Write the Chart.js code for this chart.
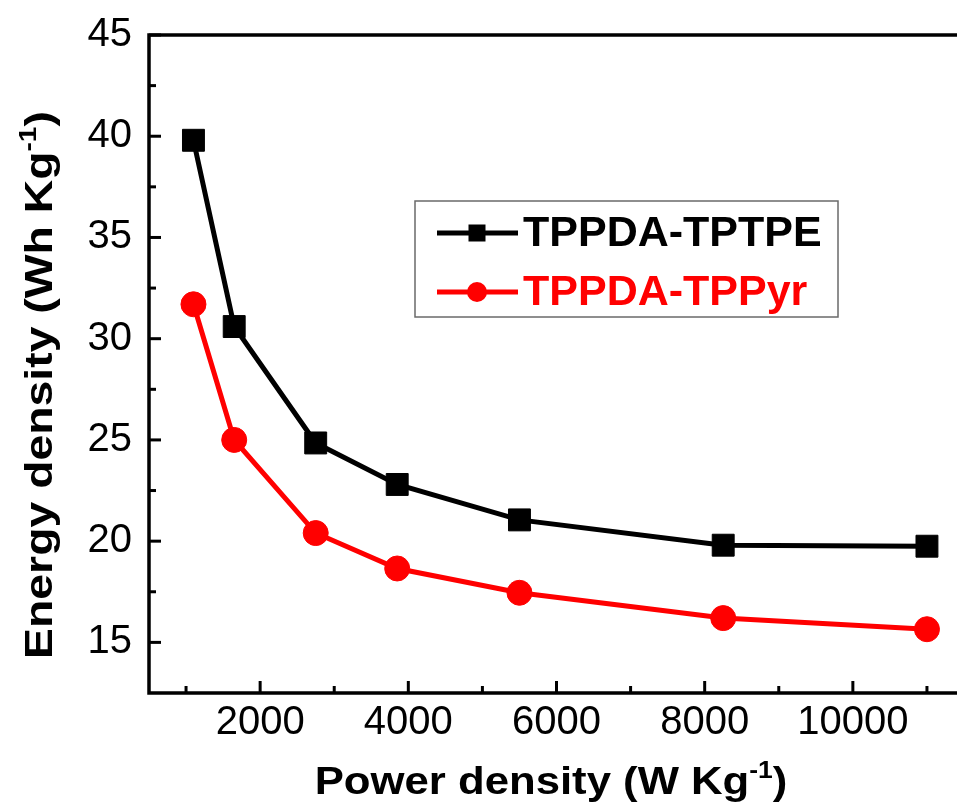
<!DOCTYPE html>
<html>
<head>
<meta charset="utf-8">
<script src="https://cdn.jsdelivr.net/npm/chart.js@4.4.1/dist/chart.umd.min.js"></script>
<style>
  html, body { margin: 0; padding: 0; background: #fff; overflow: hidden; }
  #wrap { width: 965px; height: 807px; }
</style>
</head>
<body>
<div id="wrap"><canvas id="c" width="965" height="807"></canvas></div>
<script>
// ---- data ----
const seriesNames = ['TPPDA-TPTPE', 'TPPDA-TPPyr'];
const powerDensity = [1100, 1650, 2750, 3850, 5500, 8250, 11000];
const energyTPTPE = [39.8, 30.6, 24.85, 22.8, 21.05, 19.8, 19.75];
const energyTPPyr = [31.7, 25.0, 20.4, 18.65, 17.45, 16.2, 15.65];
const xTickLabels = [2000, 4000, 6000, 8000, 10000];
const xMinorTicks = [1000, 3000, 5000, 7000, 9000, 11000];
const yTickLabels = [15, 20, 25, 30, 35, 40, 45];
const yMinorTicks = [17.5, 22.5, 27.5, 32.5, 37.5, 42.5];
const xTitle = ['Power density (W Kg', '-1', ')'];
const yTitle = ['Energy density (Wh Kg', '-1', ')'];

const FONT = '"Liberation Sans", Arial, Helvetica, sans-serif';

function toPoints(xs, ys) { return xs.map((x, i) => ({ x: x, y: ys[i] })); }

const framePlugin = {
  id: 'frame',
  beforeDatasetsDraw(chart) {
    const ctx = chart.ctx;
    const a = chart.chartArea;
    const xs = chart.scales.x, ys = chart.scales.y;
    ctx.save();
    ctx.strokeStyle = '#000';
    ctx.lineWidth = 3.5;
    ctx.lineCap = 'square';
    ctx.beginPath();
    ctx.moveTo(a.left, a.top); ctx.lineTo(a.right, a.top);
    ctx.lineTo(a.right, a.bottom); ctx.lineTo(a.left, a.bottom); ctx.closePath();
    ctx.stroke();
    ctx.lineCap = 'butt';
    ctx.lineWidth = 3;
    xTickLabels.forEach(v => { const p = xs.getPixelForValue(v); ctx.beginPath(); ctx.moveTo(p, a.bottom); ctx.lineTo(p, a.bottom - 12); ctx.stroke(); });
    xMinorTicks.forEach(v => { const p = xs.getPixelForValue(v); ctx.beginPath(); ctx.moveTo(p, a.bottom); ctx.lineTo(p, a.bottom - 7); ctx.stroke(); });
    yTickLabels.forEach(v => { const p = ys.getPixelForValue(v); ctx.beginPath(); ctx.moveTo(a.left, p); ctx.lineTo(a.left + 12, p); ctx.stroke(); });
    yMinorTicks.forEach(v => { const p = ys.getPixelForValue(v); ctx.beginPath(); ctx.moveTo(a.left, p); ctx.lineTo(a.left + 7, p); ctx.stroke(); });
    ctx.restore();
  },
  afterDraw(chart) {
    const ctx = chart.ctx;
    ctx.save();
    ctx.fillStyle = '#000';
    const drawSup = (parts, size, sx) => {
      const supSize = Math.round(size * 0.6);
      ctx.font = 'bold ' + size + 'px ' + FONT;
      const w1 = ctx.measureText(parts[0]).width;
      ctx.font = 'bold ' + supSize + 'px ' + FONT;
      const w2 = ctx.measureText(parts[1]).width;
      ctx.font = 'bold ' + size + 'px ' + FONT;
      const w3 = ctx.measureText(parts[2]).width;
      const total = w1 + w2 + w3;
      ctx.save();
      ctx.scale(sx, 1);
      const x0 = -total / 2;
      ctx.textBaseline = 'alphabetic';
      ctx.textAlign = 'left';
      ctx.fillText(parts[0], x0, 0);
      ctx.font = 'bold ' + supSize + 'px ' + FONT;
      ctx.fillText(parts[1], x0 + w1, -size * 0.42);
      ctx.font = 'bold ' + size + 'px ' + FONT;
      ctx.fillText(parts[2], x0 + w1 + w2, 0);
      ctx.restore();
    };
    ctx.save();
    ctx.translate(551, 794);
    drawSup(xTitle, 38, 1.15);
    ctx.restore();
    ctx.save();
    ctx.translate(52, 385);
    ctx.rotate(-Math.PI / 2);
    drawSup(yTitle, 38, 1.22);
    ctx.restore();

    // legend
    const bx = 415, by = 201, bw = 423, bh = 116;
    ctx.strokeStyle = '#6a6a6a';
    ctx.lineWidth = 1.5;
    ctx.strokeRect(bx, by, bw, bh);
    const rowsY = [233, 292];
    chart.data.datasets.forEach((ds, i) => {
      const y = rowsY[i];
      ctx.strokeStyle = ds.borderColor;
      ctx.lineWidth = 5;
      ctx.beginPath(); ctx.moveTo(437, y); ctx.lineTo(518, y); ctx.stroke();
      ctx.fillStyle = ds.backgroundColor;
      if (ds.pointStyle === 'rect') {
        ctx.fillRect(477 - 8.5, y - 8.5, 17, 17);
      } else {
        ctx.beginPath(); ctx.arc(477, y, 10, 0, Math.PI * 2); ctx.fill();
      }
      ctx.fillStyle = ds.borderColor;
      ctx.font = 'bold 43px ' + FONT;
      ctx.textAlign = 'left';
      ctx.textBaseline = 'middle';
      ctx.fillText(ds.label, 523, y + 1);
    });
    ctx.restore();
  }
};

new Chart(document.getElementById('c'), {
  type: 'scatter',
  data: {
    datasets: [
      {
        label: seriesNames[0],
        data: toPoints(powerDensity, energyTPTPE),
        showLine: true,
        borderColor: '#000000',
        backgroundColor: '#000000',
        borderWidth: 5,
        pointStyle: 'rect',
        pointRadius: 15.5,
        pointBorderWidth: 1,
        pointHoverRadius: 15.5
      },
      {
        label: seriesNames[1],
        data: toPoints(powerDensity, energyTPPyr),
        showLine: true,
        borderColor: '#ff0000',
        backgroundColor: '#ff0000',
        borderWidth: 5,
        pointStyle: 'circle',
        pointRadius: 12.5,
        pointBorderWidth: 1,
        pointHoverRadius: 12.5
      }
    ]
  },
  options: {
    responsive: false,
    animation: false,
    devicePixelRatio: 1,
    layout: { autoPadding: false, padding: { top: 35, right: 1, left: 0, bottom: 0 } },
    plugins: { legend: { display: false }, tooltip: { enabled: false } },
    scales: {
      x: {
        type: 'linear',
        min: 500,
        max: 11500,
        grid: { display: false, drawTicks: false },
        border: { display: false },
        afterBuildTicks(scale) { scale.ticks = xTickLabels.map(v => ({ value: v })); },
        afterFit(scale) { scale.height = 114; scale.paddingLeft = 0; scale.paddingRight = 0; },
        ticks: {
          color: '#000',
          padding: 6,
          maxRotation: 0,
          autoSkip: false,
          font: { family: FONT, size: 40 },
          callback: v => String(v)
        }
      },
      y: {
        type: 'linear',
        min: 12.5,
        max: 45,
        grid: { display: false, drawTicks: false },
        border: { display: false },
        afterBuildTicks(scale) { scale.ticks = yTickLabels.map(v => ({ value: v })); },
        afterFit(scale) { scale.width = 149; scale.paddingTop = 0; scale.paddingBottom = 0; },
        ticks: {
          color: '#000',
          padding: 17,
          autoSkip: false,
          font: { family: FONT, size: 40 },
          callback: v => String(v)
        }
      }
    }
  },
  plugins: [framePlugin]
});
</script>
</body>
</html>
